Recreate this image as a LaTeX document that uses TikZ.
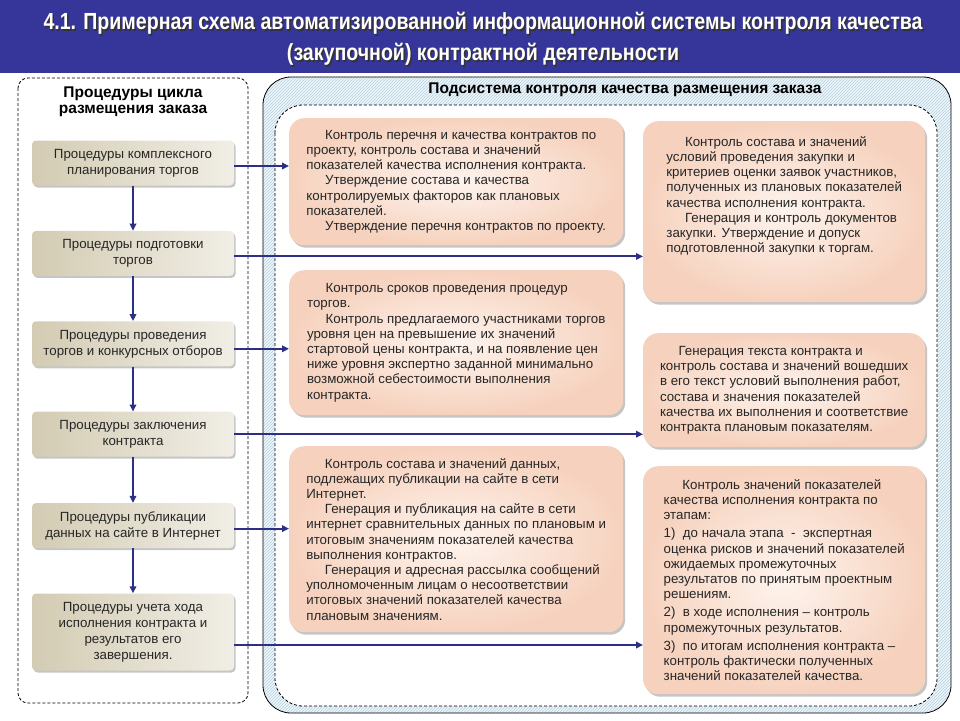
\documentclass[tikz,border=0pt]{standalone}
\usepackage{fontspec}
\setmainfont{Liberation Sans}
\newfontfamily\titlefont[FakeStretch=0.84]{Liberation Sans}
\usepackage{tikz}
\usetikzlibrary{calc,positioning,arrows.meta,shadows,patterns}
\usepackage{xcolor}
\definecolor{TitleBlue}{HTML}{35359A}
\definecolor{ArrowBlue}{HTML}{2C2F85}
\definecolor{PeachOuter}{HTML}{F6D2BE}
\definecolor{PeachInner}{HTML}{FEF4EE}
\definecolor{TanDark}{HTML}{D3CBB2}
\definecolor{TanMid}{HTML}{E3DECE}
\definecolor{TanLight}{HTML}{F1EEE6}
\definecolor{HatchBg}{HTML}{EEF5F9}
\definecolor{HatchBlue}{HTML}{B5D1E0}
\newcommand{\ind}{\hspace*{1.4em}}

\begin{document}
\begin{tikzpicture}[x=1pt,y=-1pt,
	procbox/.style={rounded corners=4pt, left color=TanDark, middle color=TanMid, right color=TanLight,
		minimum width=202pt, minimum height=45pt, align=center, text=black!85,
		font=\fontsize{13.3}{16}\selectfont,
		drop shadow={shadow xshift=1.5pt, shadow yshift=-2pt, fill=black!45}},
	ctrlbox/.style={rounded corners=15pt, inner color=PeachInner, outer color=PeachOuter,
		anchor=north west, align=left, text=black!85, font=\fontsize{13.3}{15.2}\selectfont,
		drop shadow={shadow xshift=2pt, shadow yshift=-2.5pt, fill=black!45}},
	flow/.style={ArrowBlue, line width=2pt, -{Triangle[length=7pt,width=6.5pt]}},
	border/.style={line width=0.8pt, dash pattern=on 3pt off 2pt},
	heading/.style={font=\bfseries\fontsize{15.5}{16}\selectfont, align=center}]
	\useasboundingbox (0,0) rectangle (960,720);
	\fill[TitleBlue] (0,0) rectangle (960,73);
	\node[font=\titlefont\bfseries\fontsize{23.3}{31}\selectfont, align=center, text=black!80] (titleshadow) at (484.5,40.5)
		{4.1. Примерная схема автоматизированной информационной системы контроля качества\\(закупочной) контрактной деятельности};
	\node[font=\titlefont\bfseries\fontsize{23.3}{31}\selectfont, align=center, text=white] (title) at (483,39)
		{4.1. Примерная схема автоматизированной информационной системы контроля качества\\(закупочной) контрактной деятельности};

	\draw[border, rounded corners=10pt] (18,78) rectangle (248,703);
	\node[heading] (cycle) at (133,102) {Процедуры цикла\\размещения заказа};

	\fill[HatchBg, rounded corners=28pt] (263,77) rectangle (951,713);
	\fill[pattern=north east lines, pattern color=HatchBlue, rounded corners=28pt] (263,77) rectangle (951,713);
	\draw[line width=0.8pt, rounded corners=28pt] (263,77) rectangle (951,713);
	\filldraw[border, fill=white, rounded corners=28pt] (275,105) rectangle (937,706);
	\node[heading] (subsys) at (625,90) {Подсистема контроля качества размещения заказа};

	\node[procbox] (l1) at (133,163) {Процедуры комплексного\\планирования торгов};
	\node[procbox, below=45pt of l1] (l2) {Процедуры подготовки\\торгов};
	\node[procbox, below=45pt of l2] (l3) {Процедуры проведения\\торгов и конкурсных отборов};
	\node[procbox, below=45pt of l3] (l4) {Процедуры заключения\\контракта};
	\node[procbox, below=46pt of l4] (l5) {Процедуры публикации\\данных на сайте в Интернет};
	\node[procbox, below=45pt of l5, minimum height=77pt] (l6) {Процедуры учета хода\\исполнения контракта и\\результатов его\\завершения.};

	\node[ctrlbox, minimum width=334pt, minimum height=127pt] (m1) at (289,118)
		{\ind Контроль перечня и качества контрактов по\\
		проекту, контроль состава и значений\\
		показателей качества исполнения контракта.\\
		\ind Утверждение состава и качества\\
		контролируемых факторов как плановых\\
		показателей.\\
		\ind Утверждение перечня контрактов по проекту.};
	\node[ctrlbox, minimum width=334pt, minimum height=145pt] (m2) at (289,270)
		{\ind Контроль сроков проведения процедур\\
		торгов.\\
		\ind Контроль предлагаемого участниками торгов\\
		уровня цен на превышение их значений\\
		стартовой цены контракта, и на появление цен\\
		ниже уровня экспертно заданной минимально\\
		возможной себестоимости выполнения\\
		контракта.};
	\node[ctrlbox, minimum width=334pt, minimum height=186pt] (m3) at (289,446)
		{\ind Контроль состава и значений данных,\\
		подлежащих публикации на сайте в сети\\
		Интернет.\\
		\ind Генерация и публикация на сайте в сети\\
		интернет сравнительных данных по плановым и\\
		итоговым значениям показателей качества\\
		выполнения контрактов.\\
		\ind Генерация и адресная рассылка сообщений\\
		уполномоченным лицам о несоответствии\\
		итоговых значений показателей качества\\
		плановым значениям.};
	\node[ctrlbox, minimum width=282pt, minimum height=181pt] (r1) at (643,121)
		{\ind Контроль состава и значений\\
		условий проведения закупки и\\
		критериев оценки заявок участников,\\
		полученных из плановых показателей\\
		качества исполнения контракта.\\
		\ind Генерация и контроль документов\\
		закупки. Утверждение и допуск\\
		подготовленной закупки к торгам.\\[19pt]\mbox{}};
	\node[ctrlbox, minimum width=282pt, minimum height=114pt] (r2) at (643,333)
		{\ind Генерация текста контракта и\\
		контроль состава и значений вошедших\\
		в его текст условий выполнения работ,\\
		состава и значения показателей\\
		качества их выполнения и соответствие\\
		контракта плановым показателям.};
	\node[ctrlbox, minimum width=282pt, minimum height=228pt] (r3) at (643,466)
		{\ind Контроль значений показателей\\
		качества исполнения контракта по\\
		этапам:\\[3pt]
		1)\ \ до начала этапа \ - \ экспертная\\
		оценка рисков и значений показателей\\
		ожидаемых промежуточных\\
		результатов по принятым проектным\\
		решениям.\\[3pt]
		2)\ \ в ходе исполнения -- контроль\\
		промежуточных результатов.\\[3pt]
		3)\ \ по итогам исполнения контракта --\\
		контроль фактически полученных\\
		значений показателей качества.};

	\foreach \a/\b in {l1/l2,l2/l3,l3/l4,l4/l5,l5/l6}
		\draw[flow] (\a) -- (\b);
	\draw[flow] ([yshift=-3pt]l1.east) -- ([yshift=-3pt]l1.east -| m1.west);
	\draw[flow] ([yshift=-3pt]l2.east) -- ([yshift=-3pt]l2.east -| r1.west);
	\draw[flow] ([yshift=-5pt]l3.east) -- ([yshift=-5pt]l3.east -| m2.west);
	\draw[flow] (l4.east) -- (l4.east -| r2.west);
	\draw[flow] ([yshift=-3pt]l5.east) -- ([yshift=-3pt]l5.east -| m3.west);
	\draw[flow] ([yshift=-13pt]l6.east) -- ([yshift=-13pt]l6.east -| r3.west);
\end{tikzpicture}
\end{document}
